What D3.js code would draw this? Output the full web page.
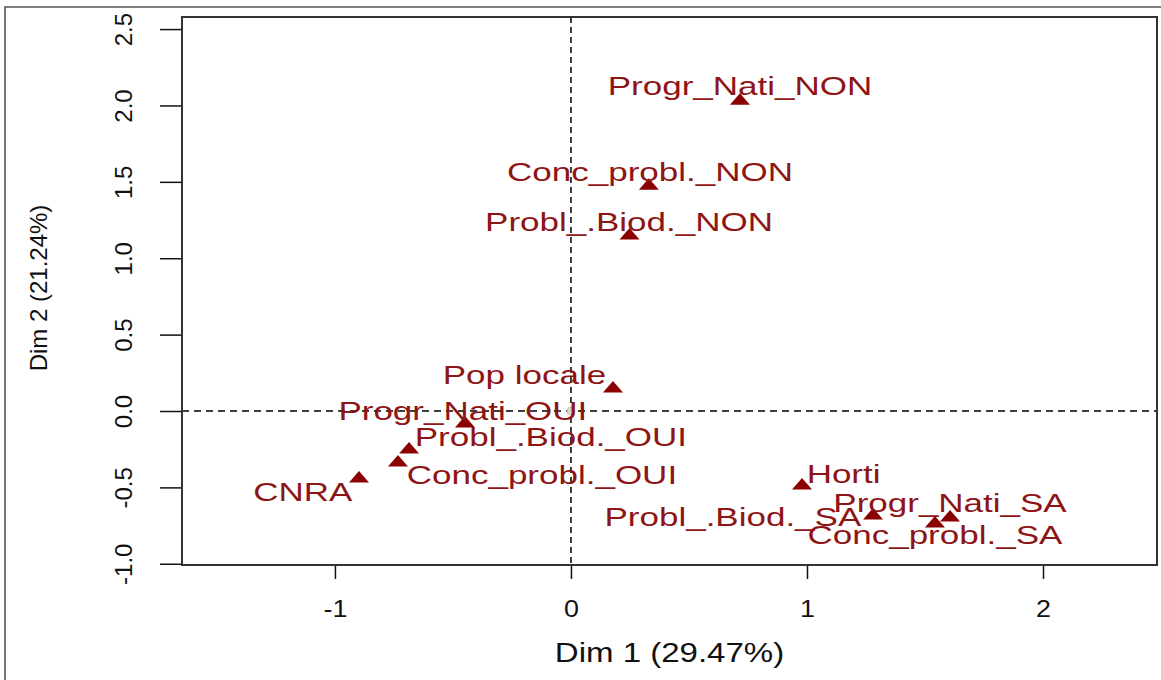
<!DOCTYPE html>
<html>
<head>
<meta charset="utf-8">
<script src="https://cdn.jsdelivr.net/npm/d3@7/dist/d3.min.js"></script>
<style>
  html, body { margin: 0; padding: 0; background: #fff; }
  svg { display: block; }
  text { font-family: "Liberation Sans", Arial, Helvetica, sans-serif; }
</style>
</head>
<body>
<svg id="chart" width="1161" height="680"></svg>
<script>
// MCA factor map: variable categories on dimensions 1 and 2
const categories = [
  "Progr_Nati_NON", "Conc_probl._NON", "Probl_.Biod._NON", "Pop locale",
  "Progr_Nati_OUI", "Probl_.Biod._OUI", "Conc_probl._OUI", "CNRA",
  "Horti", "Progr_Nati_SA", "Conc_probl._SA", "Probl_.Biod._SA"
];
const dim1 = [0.716, 0.330, 0.248, 0.178, -0.449, -0.686, -0.733, -0.898, 0.979, 1.606, 1.542, 1.280];
const dim2 = [2.040, 1.485, 1.158, 0.157, -0.072, -0.242, -0.327, -0.432, -0.478, -0.687, -0.726, -0.674];
// label anchor points (data units) after label repulsion
const labelDim1 = [0.716, 0.335, 0.246, -0.197, -0.458, -0.085, -0.123, -1.136, 1.155, 1.606, 1.542, 0.686];
const labelDim2 = [2.125, 1.567, 1.240, 0.236, 0.000, -0.173, -0.416, -0.533, -0.412, -0.602, -0.812, -0.694];

const xTicks = [-1, 0, 1, 2];
const xTickLabels = ["-1", "0", "1", "2"];
const yTicks = [-1.0, -0.5, 0.0, 0.5, 1.0, 1.5, 2.0, 2.5];
const yTickLabels = ["-1.0", "-0.5", "0.0", "0.5", "1.0", "1.5", "2.0", "2.5"];
const xTitle = "Dim 1 (29.47%)";
const yTitle = "Dim 2 (21.24%)";

const svg = d3.select("#chart");
const plot = { left: 182, right: 1157, top: 17, bottom: 565 };

const x = d3.scaleLinear().domain([-1.648, 2.483]).range([plot.left, plot.right]);
const y = d3.scaleLinear().domain([-1.008, 2.579]).range([plot.bottom, plot.top]);

const markColor = "#8b0000";

// outer figure frame
svg.append("path")
  .attr("d", "M5,680 L5,7 L1161,7")
  .attr("fill", "none").attr("stroke", "#555").attr("stroke-width", 1.6);

// reference lines through the origin
svg.append("line")
  .attr("x1", plot.left).attr("x2", plot.right)
  .attr("y1", y(0)).attr("y2", y(0))
  .attr("stroke", "#000").attr("stroke-width", 1.5).attr("stroke-dasharray", "7,5");
svg.append("line")
  .attr("x1", x(0)).attr("x2", x(0))
  .attr("y1", plot.top).attr("y2", plot.bottom)
  .attr("stroke", "#000").attr("stroke-width", 1.5).attr("stroke-dasharray", "6,4");

// individuals collapsed at the centre
svg.append("circle")
  .attr("cx", x(0)).attr("cy", y(0)).attr("r", 4)
  .attr("fill", "#d8d8d8").attr("stroke", "#c9b9a9").attr("stroke-width", 0.8);

// axes
const xAxis = svg.append("g")
  .attr("transform", `translate(0,${plot.bottom})`)
  .call(d3.axisBottom(x).tickValues(xTicks).tickSize(14).tickFormat((d, i) => xTickLabels[i]));
xAxis.select(".domain").remove();
xAxis.selectAll("line").attr("stroke", "#111").attr("stroke-width", 1.5);
xAxis.selectAll("text")
  .attr("font-size", 24).attr("fill", "#111")
  .attr("y", 0).attr("dy", 0)
  .attr("transform", "translate(0,52) scale(1.12,1)");

const yAxis = svg.append("g")
  .attr("transform", `translate(${plot.left},0)`)
  .call(d3.axisLeft(y).tickValues(yTicks).tickSize(22).tickFormat((d, i) => yTickLabels[i]));
yAxis.select(".domain").remove();
yAxis.selectAll("line").attr("stroke", "#111").attr("stroke-width", 1.5);
yAxis.selectAll("text")
  .attr("font-size", 24).attr("fill", "#111")
  .attr("x", 0).attr("dy", 0)
  .attr("text-anchor", "middle")
  .attr("transform", "translate(-50,0) rotate(-90)");

// plot box
svg.append("rect")
  .attr("x", plot.left).attr("y", plot.top)
  .attr("width", plot.right - plot.left).attr("height", plot.bottom - plot.top)
  .attr("fill", "none").attr("stroke", "#333").attr("stroke-width", 2);

// axis titles
svg.append("text")
  .attr("transform", `translate(${(plot.left + plot.right) / 2},662) scale(1.18,1)`)
  .attr("text-anchor", "middle").attr("font-size", 28).attr("fill", "#111")
  .text(xTitle);
svg.append("text")
  .attr("transform", `translate(47,288) rotate(-90)`)
  .attr("text-anchor", "middle").attr("font-size", 24).attr("fill", "#111")
  .text(yTitle);

// category markers
const tri = "M0,-6 L10,5.5 L-10,5.5 Z";
svg.append("g").selectAll("path")
  .data(categories)
  .join("path")
  .attr("d", tri)
  .attr("transform", (d, i) => `translate(${x(dim1[i])},${y(dim2[i])})`)
  .attr("fill", markColor);

// category labels
svg.append("g").selectAll("text")
  .data(categories)
  .join("text")
  .attr("transform", (d, i) => `translate(${x(labelDim1[i])},${y(labelDim2[i]) + 9}) scale(1.4,1)`)
  .attr("text-anchor", "middle")
  .attr("font-size", 25)
  .attr("fill", "#8e1515")
  .text(d => d);
</script>
</body>
</html>
